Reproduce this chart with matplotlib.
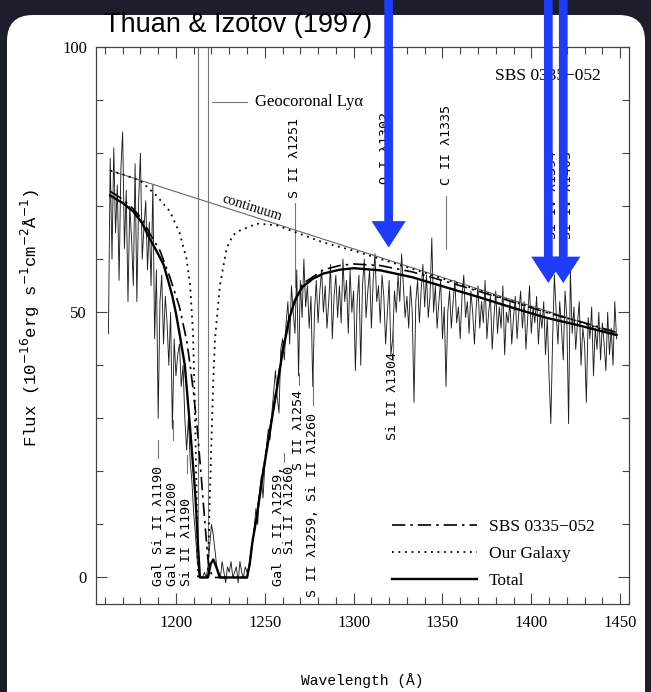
import matplotlib
matplotlib.use("Agg")
import matplotlib.pyplot as plt
from matplotlib.patches import FancyBboxPatch
from matplotlib.transforms import IdentityTransform
import numpy as np

# observed spectrum, 1 A steps starting at 1162 A
wave_start = 1162
flux_obs = [
    46, 79, 60, 81, 65, 74, 56, 77, 84, 62,
    73, 52, 70, 64, 55, 78, 52, 71, 80, 60,
    66, 71, 58, 67, 55, 74, 45, 58, 30, 52,
    57, 44, 53, 48, 40, 50, 28, 45, 38, 42,
    44, 36, 40, 30, 24, 30, 22, 18, 12, 8,
    3, 1, 0, 0, 1, 0, 2, 6, 10, 8,
    5, 2, 1, 0, 3, 1, -1, 2, 1, 3,
    0, 1, 2, -1, 3, 1, 0, 2, 1, 2,
    4, 6, 9, 13, 10, 16, 19, 15, 21, 25,
    28, 26, 31, 35, 39, 34, 31, 43, 45, 41,
    48, 52, 44, 55, 50, 46, 58, 38, 56, 49,
    60, 51, 55, 47, 53, 36, 50, 56, 48, 54,
    58, 50, 55, 47, 52, 59, 45, 53, 57, 49,
    55, 48, 60, 52, 56, 46, 58, 50, 54, 39,
    52, 57, 40, 55, 60, 49, 54, 58, 47, 56,
    61, 52, 55, 48, 57, 53, 44, 50, 56, 42,
    45, 54, 50, 57, 52, 61, 55, 49, 53, 47,
    55, 50, 33, 52, 56, 48, 54, 59, 51, 57,
    49, 53, 64, 50, 55, 47, 52, 56, 45, 51,
    36, 50, 54, 47, 52, 56, 48, 51, 45, 53,
    57, 49, 52, 46, 54, 50, 44, 51, 55, 47,
    52, 48, 56, 45, 50, 53, 43, 49, 54, 46,
    51, 47, 55, 42, 50, 48, 52, 44, 49, 53,
    45, 50, 54, 47, 52, 43, 49, 55, 46, 51,
    48, 53, 44, 50, 47, 52, 42, 49, 38, 29,
    45, 57, 50, 44, 52, 47, 41, 54, 49, 29,
    58, 46, 51, 43, 48, 52, 40, 47, 44, 33,
    49, 45, 51, 38, 47, 43, 50, 41, 48, 44,
    39, 50, 42, 47, 40, 52, 45,
]
wave_obs = np.arange(wave_start, wave_start + len(flux_obs))

# model curves
wave_total = [1163, 1170, 1176, 1181, 1185, 1189, 1193, 1196, 1198, 1200, 1202, 1205, 1208,
              1210, 1211, 1212.4, 1213.5, 1218, 1219.5, 1221, 1222.5, 1224.7, 1240, 1241.5,
              1243, 1245.5, 1249, 1253, 1257, 1260, 1264, 1267, 1271, 1277, 1283, 1292,
              1300, 1315, 1333, 1352, 1371, 1389, 1408, 1427, 1448]
flux_total = [72, 70.6, 69, 66.8, 64, 61.6, 59, 55.5, 53, 49.8, 46, 40, 28,
              19.5, 15, 6, 0, 0, 2.5, 3.4, 2.2, 0, 0, 2.5,
              6.6, 11.5, 19.7, 27.8, 36, 42.5, 49, 52.3, 54.7, 56.3, 57.3, 58,
              58.3, 57.9, 56.6, 54.7, 52.8, 50.9, 49, 47.5, 45.7]

wave_sbs = [1163, 1170, 1176, 1181, 1185, 1191, 1196.6, 1202, 1206, 1208, 1210, 1212,
            1214, 1216, 1218, 1219.5, 1221, 1240, 1241.5, 1243, 1245.5, 1249, 1253, 1257,
            1260, 1264, 1271, 1283, 1292, 1300, 1315, 1333, 1352, 1371, 1389, 1408,
            1427, 1448]
flux_sbs = [72.8, 71.3, 69.5, 67.5, 65, 61.6, 56.6, 51, 44.7, 40, 34.5, 28,
            20, 11.5, 3.4, 1, 0, 0, 2.6, 6.8, 11.8, 20, 28.2, 36.5,
            43, 49.5, 55.3, 58, 58.8, 59.1, 58.8, 57.6, 55.8, 53.9, 52, 50,
            48.3, 46.2]

wave_gal = [1163, 1170, 1180, 1189, 1196.6, 1202, 1206, 1208, 1209.6, 1210.8, 1211.8,
            1212.4, 1218, 1218.8, 1220, 1221, 1222, 1224.7, 1228.5, 1232, 1236, 1245.5,
            1256.7, 1268, 1282.6, 1300, 1330, 1360, 1390, 1420, 1448]
flux_gal = [76.7, 76, 74.8, 72, 69, 65, 60, 55, 46, 30, 12,
            0, 0, 12, 26, 37, 45, 55, 62, 64.5, 65.4, 66.7,
            66.4, 65, 63.2, 61.6, 58.5, 55.3, 52, 48.9, 45.9]

wave_cont = [1163, 1448]
flux_cont = [76.7, 46.0]

geo_lya = [1212.4, 1218.0]

# line identifications: (wavelength, text, y of text start, marker from, marker to)
lower_ids = [
    (1189.9, "Gal Si II λ1190", -1.7, 22.6, 25.9),
    (1198.3, "Gal N I λ1200", -1.7, 25.9, 29.7),
    (1206.0, "Si II λ1190", -1.7, 19.7, 23.0),
    (1260.7, "Gal S II λ1259,\nSi II λ1260", -1.7, 21.8, 23.5),
    (1269.1, "S II λ1254", 20.3, 36.3, 38.5),
    (1277.0, "S II λ1259, Si II λ1260", -3.6, 32.5, 38.7),
    (1321.9, "Si II λ1304", 25.9, 41.0, 46.6),
]
upper_ids = [
    (1266.9, "S II λ1251", 71.6, 70.5, 54.7),
    (1318.0, "O I λ1302", 74.2, 72.5, 64.0),
    (1352.2, "C II λ1335", 73.9, 72.0, 62.0),
    (1411.8, "Si IV λ1394", 63.9, None, None),
    (1420.2, "Si IV λ1403", 63.9, None, None),
]

arrow_waves = [1319.7, 1409.6, 1418.0]
arrow_tips = [62.2, 55.5, 55.5]

BLUE = "#1e3cfa"
serif = ["Liberation Serif", "DejaVu Serif"]
mono = ["DejaVu Sans Mono", "DejaVu Sans"]
typewriter = ["Liberation Mono", "DejaVu Sans Mono"]

fig = plt.figure(figsize=(6.51, 6.92), dpi=100, facecolor="#1c1e2b")
panel = FancyBboxPatch((7, -40), 638, 717, boxstyle="round,pad=0,rounding_size=26",
                       transform=IdentityTransform(), fc="white", ec="none", zorder=-10)
fig.patches.append(panel)

ax = fig.add_axes([96 / 651, 1 - 604 / 692, 533 / 651, 557 / 692])
ax.set_facecolor("none")

ax.plot(wave_obs, flux_obs, color="#1e1e1e", lw=0.65, zorder=2)
ax.plot(wave_cont, flux_cont, color="#666666", lw=0.8, zorder=3)
sbs_line, = ax.plot(wave_sbs, flux_sbs, color="black", lw=1.2, ls=(0, (8, 3, 1.5, 3)), zorder=4)
gal_line, = ax.plot(wave_gal, flux_gal, color="black", lw=1.3, ls=(0, (1, 2.6)), zorder=4)
tot_line, = ax.plot(wave_total, flux_total, color="black", lw=1.7, zorder=5)

for w in geo_lya:
    ax.axvline(w, ymin=0.05, ymax=1, color="#777777", lw=0.8, zorder=1)

for w, txt, y0, m0, m1 in lower_ids:
    ax.text(w, y0, txt, rotation=90, ha="center", va="bottom", fontsize=9.6, family=mono,
            multialignment="right", linespacing=0.85)
    ax.plot([w, w], [m0, m1], color="#777777", lw=0.8)

for w, txt, y0, m0, m1 in upper_ids:
    ax.text(w, y0, txt, rotation=90, ha="center", va="bottom", fontsize=9.6, family=mono)
    if m0 is not None:
        ax.plot([w, w], [m0, m1], color="#777777", lw=0.8)

ax.plot([1220.2, 1240.0], [89.7, 89.7], color="#777777", lw=0.8)
ax.text(1244.4, 89.7, "Geocoronal Lyα", ha="left", va="center", fontsize=12, family=serif)
ax.text(1379.8, 94.5, "SBS 0335−052", ha="left", va="center", fontsize=12.5, family=serif)
ax.text(1242.7, 69.7, "continuum", ha="center", va="center", rotation=-17.5, fontsize=10.5, family=serif)

leg = ax.legend([sbs_line, gal_line, tot_line], ["SBS 0335−052", "Our Galaxy", "Total"],
                loc="upper left", bbox_to_anchor=(0.555, 0.152), frameon=False,
                handlelength=4.9, handletextpad=0.7, labelspacing=0.6, borderpad=0,
                borderaxespad=0, prop={"family": serif, "size": 12.5})

for w, tip in zip(arrow_waves, arrow_tips):
    ax.annotate("", xy=(w, tip), xytext=(w, 1.0), xycoords="data",
                textcoords=("data", "figure fraction"), annotation_clip=False,
                arrowprops=dict(arrowstyle="simple,head_length=1.0,head_width=1.3,tail_width=0.33",
                                mutation_scale=19, fc=BLUE, ec="none", shrinkA=0, shrinkB=0),
                zorder=20)

ax.set_xlim(1155, 1455)
ax.set_ylim(-5, 100)
ax.set_xticks([1200, 1250, 1300, 1350, 1400, 1450])
ax.set_xticks(np.arange(1160, 1455, 10), minor=True)
ax.set_yticks([0, 50, 100])
ax.set_yticks(np.arange(0, 101, 10), minor=True)
ax.tick_params(which="both", direction="in", top=True, right=True, color="#444444", width=0.8)
ax.tick_params(which="major", length=8)
ax.tick_params(which="minor", length=5)
ax.tick_params(axis="x", pad=8)
ax.tick_params(axis="y", pad=6.5)
for lab in ax.get_xticklabels() + ax.get_yticklabels():
    lab.set_family(serif)
    lab.set_fontsize(12)
for sp in ax.spines.values():
    sp.set_color("#444444")
    sp.set_linewidth(0.9)

fig.text(362.5 / 651, 1 - 681 / 692, "Wavelength (Å)", ha="center", va="center",
         fontsize=10.5, family=typewriter)
fig.text(30 / 651, 1 - 318 / 692, "Flux (10$^{-16}$erg s$^{-1}$cm$^{-2}$Å$^{-1}$)",
         rotation=90, ha="center", va="center", fontsize=12.5, family=typewriter)
fig.text(238 / 651, 1 - 32 / 692, "Thuan & Izotov (1997)", ha="center", va="baseline",
         fontsize=19.5, family=["Liberation Sans", "DejaVu Sans"])

fig.savefig("out.png", dpi=100, facecolor=fig.get_facecolor())
